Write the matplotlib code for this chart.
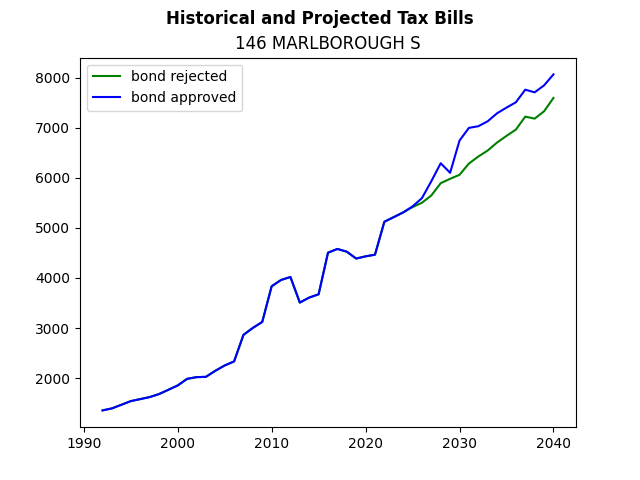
import matplotlib
matplotlib.use('Agg')
import matplotlib.pyplot as plt

years = list(range(1992, 2041))

historical = [1356, 1396, 1468, 1541, 1581, 1621, 1681, 1767, 1854, 1986,
              2020, 2026, 2146, 2253, 2333, 2864, 3003, 3122, 3834, 3960,
              4020, 3509, 3609, 3674, 4505, 4580, 4525, 4388, 4432, 4465,
              5123, 5215, 5309]

rejected_future = [5415, 5502, 5648, 5893, 5980, 6060, 6285, 6425, 6545, 6705,
                   6837, 6963, 7222, 7182, 7328, 7595]
approved_future = [5430, 5594, 5933, 6291, 6100, 6744, 6997, 7030, 7129, 7289,
                   7402, 7508, 7760, 7707, 7846, 8065]

bond_rejected = historical + rejected_future
bond_approved = historical + approved_future

fig, ax = plt.subplots(figsize=(6.4, 4.8), dpi=100)
ax.plot(years, bond_rejected, color='green', label='bond rejected')
ax.plot(years, bond_approved, color='blue', label='bond approved')
ax.set_title('146 MARLBOROUGH S')
fig.suptitle('Historical and Projected Tax Bills', fontweight='bold')
ax.legend(loc='upper left')

plt.savefig('out.png')
